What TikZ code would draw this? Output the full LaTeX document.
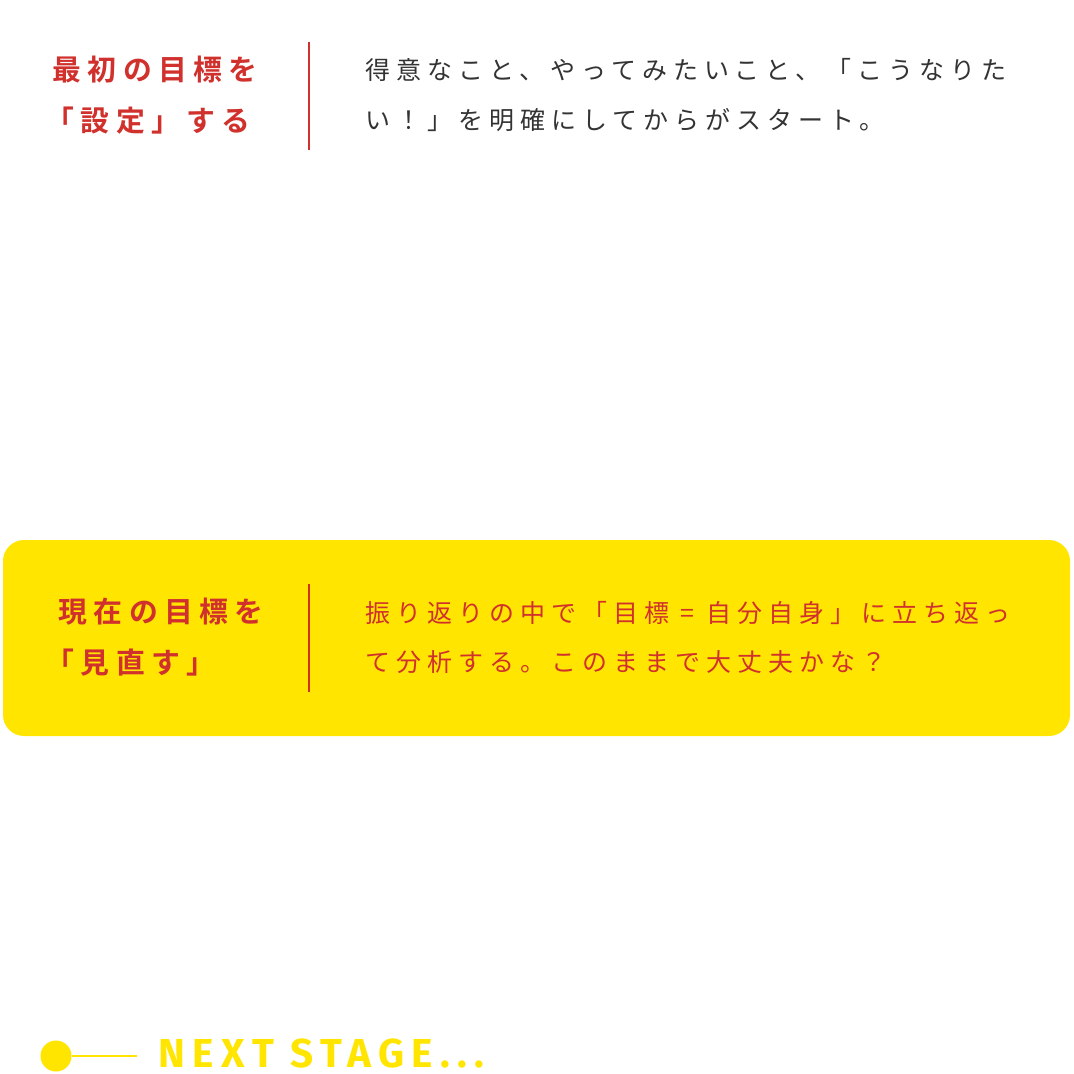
\documentclass[tikz,border=0pt]{standalone}
\usepackage{fontspec}
\newfontfamily\cjk{Noto Sans CJK JP}
\newfontfamily\cjkbody[LetterSpace=24]{Noto Sans CJK JP}
\newfontfamily\cjkhead[LetterSpace=22]{Noto Sans CJK JP Bold}
\newfontfamily\nextfont[LetterSpace=18]{Fira Sans}
\usetikzlibrary{positioning}
\definecolor{accentred}{HTML}{D0312D}
\definecolor{stageyellow}{HTML}{FFE500}
\definecolor{bodygray}{HTML}{333333}

\begin{document}
\begin{tikzpicture}[x=0.01cm,y=-0.01cm,
    head/.style={anchor=west, inner sep=0pt, text=accentred, font=\fontsize{8.2pt}{10pt}\cjkhead},
    body/.style={anchor=west, inner sep=0pt, font=\fontsize{7.1pt}{9pt}\cjkbody}
]
    \useasboundingbox (0,0) rectangle (1074,1073);

    % first stage
    \node (goal_set_a) [head] at (52,70) {最初の目標を};
    \node (goal_set_b) [head] at (45,121) {「設定」する};
    \draw[accentred, line width=0.6pt] (309,42) -- (309,150);
    \node (goal_text_a) [body, text=bodygray] at (365,70) {得意なこと、やってみたいこと、「こうなりた};
    \node (goal_text_b) [body, text=bodygray] at (365,120) {い！」を明確にしてからがスタート。};

    % review stage
    \fill[stageyellow, rounded corners=6pt] (3,540) rectangle (1070,736);
    \node (review_a) [head] at (58,612) {現在の目標を};
    \node (review_b) [head] at (45,663) {「見直す」};
    \draw[accentred, line width=0.6pt] (309,584) -- (309,692);
    \node (review_text_a) [body, text=accentred] at (365,613) {振り返りの中で「目標 = 自分自身」に立ち返っ};
    \node (review_text_b) [body, text=accentred] at (365,662) {て分析する。このままで大丈夫かな？};

    % next stage
    \node (dot) [circle, fill=stageyellow, minimum size=0.31cm, inner sep=0pt] at (56,1056) {};
    \coordinate (line_end) at (137,1056);
    \draw[stageyellow, line width=0.8pt] (dot) -- (line_end);
    \node (next_stage) [anchor=west, inner sep=0pt, text=stageyellow,
        font=\fontsize{11.5pt}{13pt}\nextfont\bfseries] at (158,1053) {NEXT STAGE...};
\end{tikzpicture}
\end{document}
